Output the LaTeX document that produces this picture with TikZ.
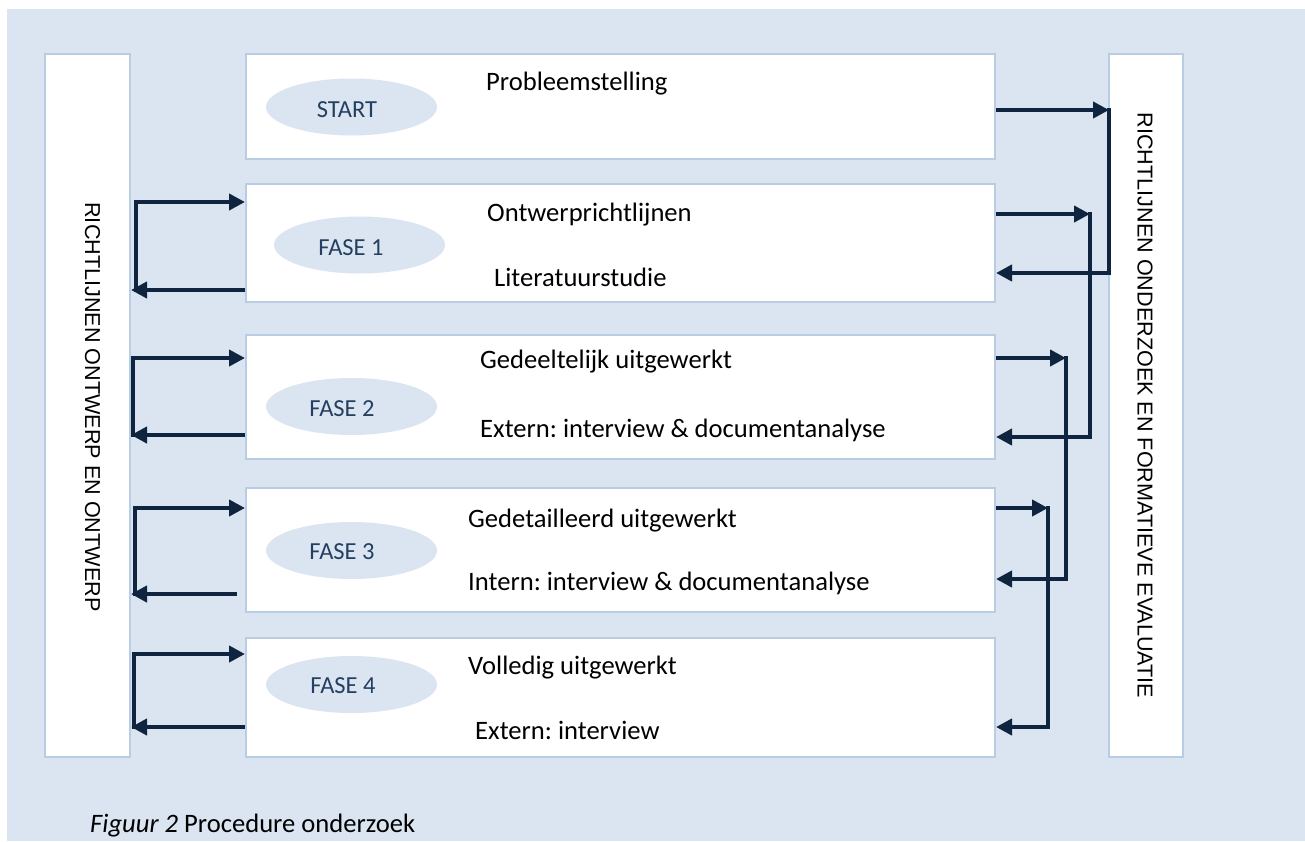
\documentclass[tikz,border=0pt]{standalone}
\usepackage{fontspec}
\setmainfont{Carlito}
\newfontfamily\barfont{Liberation Sans}
\usetikzlibrary{arrows.meta,shapes.geometric}
\frenchspacing
\definecolor{panel}{HTML}{DBE5F1}
\definecolor{frameblue}{HTML}{B8CCE4}
\definecolor{navy}{HTML}{0F243E}
\definecolor{phasetext}{HTML}{243F60}
\tikzset{
  panelbox/.style={draw=frameblue, line width=2pt, fill=white, inner sep=0pt, minimum width=749pt},
  sidebar/.style={draw=frameblue, line width=2pt, fill=white, inner sep=0pt, minimum height=703pt},
  phase/.style={ellipse, fill=panel, draw=none, inner sep=0pt, minimum width=171pt, minimum height=57pt},
  phaselabel/.style={anchor=base, inner sep=0pt, text=phasetext, font=\fontsize{24.5}{29}\selectfont},
  boxtext/.style={anchor=base west, inner sep=0pt, font=\fontsize{26.6}{31}\selectfont},
  bartext/.style={rotate=-90, inner sep=0pt, font=\barfont\fontsize{21.6}{26}\selectfont},
  conn/.style={draw=navy, line width=4.5pt, line join=miter, -{Triangle[length=16pt,width=16pt]}}
}
\begin{document}
\begin{tikzpicture}[x=1pt,y=-1pt]
\useasboundingbox (0,0) rectangle (1305,841);
\fill[panel] (7,9) rectangle (1305,841);

% side bars
\node[sidebar, minimum width=85pt] (L) at (87.5,405.5) {};
\node[sidebar, minimum width=74pt] (R) at (1146,405.5) {};
\node[bartext] (Lt) at ([xshift=5pt,yshift=-1.5pt]L.center) {RICHTLIJNEN ONTWERP EN ONTWERP};
\node[bartext] (Rt) at ([xshift=-1pt]R.center) {RICHTLIJNEN ONDERZOEK EN FORMATIEVE EVALUATIE};

% phase boxes
\node[panelbox, minimum height=105pt] (b0) at (620.5,106.5) {};
\node[panelbox, minimum height=118pt] (b1) at (620.5,243) {};
\node[panelbox, minimum height=124pt] (b2) at (620.5,397) {};
\node[panelbox, minimum height=124pt] (b3) at (620.5,550) {};
\node[panelbox, minimum height=119pt] (b4) at (620.5,697.5) {};

% phase ellipses
\node[phase] (e0) at (351.5,107) {};
\node[phase] (e1) at (359.5,245) {};
\node[phase] (e2) at (351.5,406.5) {};
\node[phase] (e3) at (351.5,550.5) {};
\node[phase] (e4) at (351.5,684.5) {};
\node[phaselabel] (t0) at (347,117) {START};
\node[phaselabel] (t1) at (351,255) {FASE 1};
\node[phaselabel] (t2) at (342,416) {FASE 2};
\node[phaselabel] (t3) at (342,559) {FASE 3};
\node[phaselabel] (t4) at (343,693) {FASE 4};

% box texts
\node[boxtext] (s0) at (486,90) {Probleemstelling};
\node[boxtext] (s1a) at (487,221.5) {Ontwerprichtlijnen};
\node[boxtext] (s1b) at (494,286) {Literatuurstudie};
\node[boxtext] (s2a) at (480,368) {Gedeeltelijk uitgewerkt};
\node[boxtext] (s2b) at (480,437) {Extern: interview \& documentanalyse};
\node[boxtext] (s3a) at (468,527) {Gedetailleerd uitgewerkt};
\node[boxtext] (s3b) at (468,590) {Intern: interview \& documentanalyse};
\node[boxtext] (s4a) at (468,674) {Volledig uitgewerkt};
\node[boxtext] (s4b) at (475,739) {Extern: interview};

% right-hand feedback loops
\draw[conn] ([yshift=-3.5pt]b0.east) -- ++(113,0) coordinate (k0);
\draw[conn] ([yshift=2pt]k0) |- ([yshift=-30pt]b1.east);
\draw[conn] ([yshift=29pt]b1.east) -- ++(94,0) coordinate (k1);
\draw[conn] ([yshift=2pt]k1) |- ([yshift=-40pt]b2.east);
\draw[conn] ([yshift=39pt]b2.east) -- ++(70,0) coordinate (k2);
\draw[conn] ([yshift=2pt]k2) |- ([yshift=-29pt]b3.east);
\draw[conn] ([yshift=42pt]b3.east) -- ++(52,0) coordinate (k3);
\draw[conn] ([yshift=2pt]k3) |- ([yshift=-29.5pt]b4.east);

% left-hand design loops
\coordinate (b1hi) at ([yshift=41pt]b1.west);
\coordinate (b1lo) at ([yshift=-47pt]b1.west);
\coordinate (b2hi) at ([yshift=39pt]b2.west);
\coordinate (b2lo) at ([yshift=-38pt]b2.west);
\coordinate (b3hi) at ([yshift=42pt]b3.west);
\coordinate (b3lo) at ([xshift=-8pt,yshift=-44pt]b3.west);
\coordinate (b4hi) at ([yshift=43.5pt]b4.west);
\coordinate (b4lo) at ([yshift=-29.5pt]b4.west);

\draw[conn] (b1lo) -- (b1lo -| L.east);
\draw[conn] (b1lo -| L.east) ++(5,2) |- (b1hi);
\draw[conn] (b2lo) -- (b2lo -| L.east);
\draw[conn] (b2lo -| L.east) ++(2,2) |- (b2hi);
\draw[conn] (b3lo) -- (b3lo -| L.east);
\draw[conn] (b3lo -| L.east) ++(4,2) |- (b3hi);
\draw[conn] (b4lo) -- (b4lo -| L.east);
\draw[conn] (b4lo -| L.east) ++(3,2) |- (b4hi);

% caption
\node[boxtext] (cap) at (90,832) {\textit{Figuur 2} Procedure onderzoek};
\end{tikzpicture}
\end{document}
